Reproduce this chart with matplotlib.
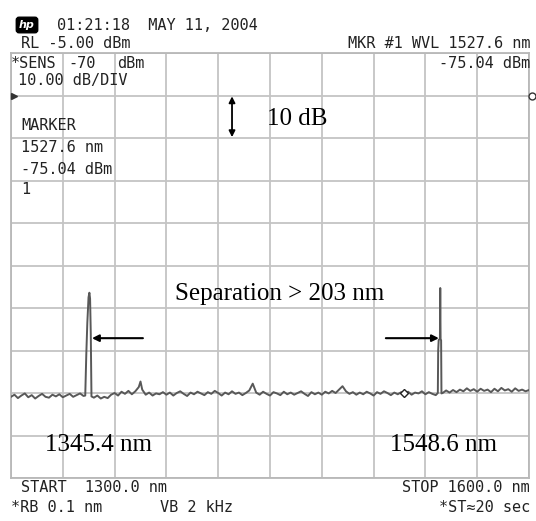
import numpy as np
import matplotlib
matplotlib.use("Agg")
import matplotlib.pyplot as plt

# --- trace data (wavelength in nm, power in dBm) ---
floor_a_nm = list(range(1300, 1344, 2))
floor_a_db = [-75.9, -75.4, -76.2, -75.6, -75.1, -76.0, -75.5, -76.3, -75.7, -75.2, -75.9,
              -76.1, -75.4, -75.8, -75.3, -76.0, -75.6, -75.2, -75.9, -75.5, -75.1, -75.7]

peak1_nm = [1343.0, 1343.6, 1344.2, 1344.9, 1345.4, 1345.8, 1346.2, 1346.6]
peak1_db = [-75.6, -66.0, -58.5, -52.5, -51.4, -52.8, -61.0, -75.8]

floor_b_nm = [1348, 1350, 1352, 1354, 1356, 1358, 1360, 1362, 1364, 1366, 1368, 1370,
              1372, 1374, 1375, 1376, 1378, 1380, 1382, 1384] + list(range(1386, 1548, 2))
floor_b_db = [-76.1, -75.6, -76.3, -75.9, -76.2, -75.4, -75.0, -75.6, -74.7, -75.2, -74.5, -75.3,
              -74.6, -73.6, -72.3, -74.2, -75.4, -74.9, -75.6, -75.1,
              -75.3, -74.8, -75.4, -74.9, -75.6, -75.0, -74.6, -75.2, -75.7, -74.9, -75.3,
              -74.7, -75.1, -75.5, -74.8, -75.2, -74.5, -75.0, -75.6, -74.9, -75.3, -74.6,
              -75.2, -74.9, -75.5, -75.0, -74.4, -72.8, -74.9, -75.4, -74.7, -75.2, -75.6,
              -74.8, -75.1, -75.5, -74.7, -75.3, -74.9, -75.4, -75.0, -74.6, -75.2, -75.7,
              -74.8, -75.3, -74.9, -75.4, -74.7, -75.1, -74.5, -75.0, -74.2, -73.4, -74.6,
              -75.2, -74.8, -75.4, -74.9, -75.3, -74.7, -75.1, -75.6, -74.8, -75.2, -74.6,
              -75.0, -75.5, -74.9, -75.3, -74.8, -75.2, -74.7, -75.4, -74.9, -75.1, -74.6,
              -75.3, -74.8, -75.2, -75.5]

peak2_nm = [1547.2, 1547.4, 1547.7, 1548.4, 1548.6, 1548.8, 1549.1, 1549.3]
peak2_db = [-75.0, -65.0, -62.5, -62.3, -50.3, -62.3, -62.6, -75.1]

floor_c_nm = list(range(1550, 1602, 2))
floor_c_db = [-75.0, -74.4, -74.9, -74.3, -74.8, -74.2, -74.6, -73.9, -74.5, -74.1, -74.7,
              -74.0, -74.5, -74.2, -74.8, -74.0, -74.6, -73.8, -74.4, -74.1, -74.7, -73.9,
              -74.5, -74.2, -74.6, -74.3]

wl = np.array(floor_a_nm + peak1_nm + floor_b_nm + peak2_nm + floor_c_nm, dtype=float)
pw = np.array(floor_a_db + peak1_db + floor_b_db + peak2_db + floor_c_db, dtype=float)

marker_nm, marker_db = 1527.6, -75.04
ref_db = -5.0

W, H = 536, 521
fig = plt.figure(figsize=(W / 100, H / 100), dpi=100)
fig.patch.set_facecolor("white")

# graticule: 10 x 10 divisions, 30 nm/div, 10 dB/div
ax = fig.add_axes([11 / W, 1 - 478 / H, 518 / W, 425 / H])
ax.set_xlim(1300, 1600)
ax.set_ylim(-95, 5)
ax.set_xticks(np.arange(1300, 1601, 30))
ax.set_yticks(np.arange(-95, 6, 10))
ax.grid(True, color="#c4c4c4", lw=1.3)
ax.tick_params(length=0, labelbottom=False, labelleft=False)
for s in ax.spines.values():
    s.set_color("#b8b8b8")
    s.set_linewidth(1.3)

ax.plot(wl, pw, color="#585858", lw=1.4, zorder=3)
ax.plot(marker_nm, marker_db, marker="D", ms=4, mfc="white", mec="#222222", mew=1, zorder=4)

# reference level markers
ax.plot(1301.5, ref_db, marker=">", ms=4, color="#333333", clip_on=False, zorder=4)
ax.plot(1601.5, ref_db, marker="o", ms=5, mfc="white", mec="#333333", clip_on=False, zorder=4)

# annotations
serif = dict(family="Liberation Serif", size=18, color="black")
ax.annotate("", xy=(1428, -5.2), xytext=(1428, -14.8),
            arrowprops=dict(arrowstyle="<|-|>", color="black", lw=1.3, mutation_scale=9,
                            shrinkA=0, shrinkB=0))
ax.text(1465.5, -10.6, "10 dB", ha="center", va="center", **serif)
ax.text(1455.5, -51.8, "Separation > 203 nm", ha="center", va="center", **serif)
ax.annotate("", xy=(1346.9, -62.1), xytext=(1376.4, -62.1),
            arrowprops=dict(arrowstyle="-|>", color="black", lw=1.5, mutation_scale=10,
                            shrinkA=0, shrinkB=0))
ax.annotate("", xy=(1547.8, -62.1), xytext=(1517.1, -62.1),
            arrowprops=dict(arrowstyle="-|>", color="black", lw=1.5, mutation_scale=10,
                            shrinkA=0, shrinkB=0))
ax.text(1350.4, -87.2, "1345.4 nm", ha="center", va="center", **serif)
ax.text(1550.4, -87.2, "1548.6 nm", ha="center", va="center", **serif)

# instrument screen text
mono = dict(family="DejaVu Sans Mono", size=11, color="#222222", va="center")


def put(xp, yp, s, ha="left"):
    fig.text(xp / W, 1 - yp / H, s, ha=ha, **mono)


fig.text(27 / W, 1 - 25 / H, "hp", ha="center", va="center", color="white",
         family="DejaVu Sans", size=8, style="italic", weight="bold",
         bbox=dict(boxstyle="round,pad=0.25", fc="black", ec="black"))
put(57, 25, "01:21:18  MAY 11, 2004")
put(21, 43, "RL -5.00 dBm")
put(530, 43, "MKR #1 WVL 1527.6 nm", ha="right")
put(11, 63, "*SENS")
put(68, 63, "-70")
put(117, 63, "dBm")
put(530, 63, "-75.04 dBm", ha="right")
put(18, 81, "10.00 dB/DIV")
put(21, 126, "MARKER")
put(21, 148, "1527.6 nm")
put(21, 169, "-75.04 dBm")
put(21, 190, "1")
put(21, 488, "START  1300.0 nm")
put(530, 488, "STOP 1600.0 nm", ha="right")
put(11, 507, "*RB 0.1 nm")
put(160, 507, "VB 2 kHz")
put(530, 507, "*ST\u224820 sec", ha="right")

fig.savefig("out.png", dpi=100)
